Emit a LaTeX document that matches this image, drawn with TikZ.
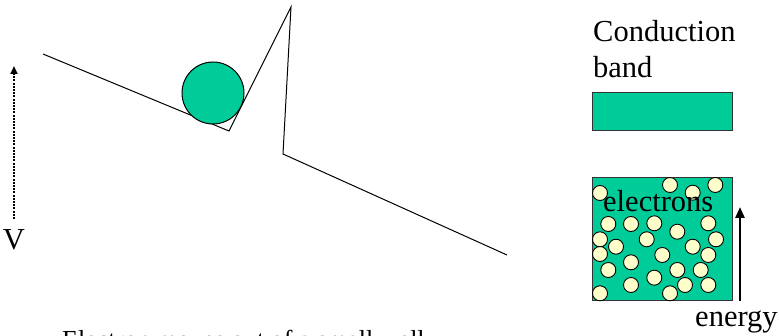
\documentclass[tikz,border=0pt]{standalone}
\usepackage{fontspec}
\setmainfont{Liberation Serif}
\usepackage{tikz}
\definecolor{bandgreen}{RGB}{0,204,153}
\definecolor{electroncol}{RGB}{255,255,204}
\usetikzlibrary{arrows.meta, positioning}

\begin{document}
\begin{tikzpicture}[x=1pt, y=-1pt,
    txt/.style={inner sep=0pt, font=\fontsize{30.5}{36}\selectfont},
    bandbox/.style={draw=black!80, line width=1pt, fill=bandgreen, inner sep=0pt,
                    outer sep=0pt, anchor=north west, minimum width=140pt},
    edot/.style={circle, draw=black, line width=0.9pt, fill=electroncol,
                 minimum size=15pt, inner sep=0pt}
]
    \useasboundingbox (0,0) rectangle (779,336);

    % potential curve with the trapped electron
    \coordinate (p1) at (43,54);
    \coordinate (p2) at (229,131);
    \coordinate (p3) at (291,7);
    \coordinate (p4) at (283,154);
    \coordinate (p5) at (507,255);
    \draw[line width=1pt] (p1) -- (p2) -- (p3) -- (p4) -- (p5);
    \node[circle, draw, line width=1pt, fill=bandgreen, minimum size=62pt, inner sep=0pt] (ball) at (213,93) {};

    % potential axis
    \coordinate (vbot) at (14,219);
    \coordinate (vtop) at (14,66);
    \draw[line width=2pt, dash pattern=on 2pt off 1.2pt, -{Triangle[width=7pt,length=8pt]}] (vbot) -- (vtop);
    \node[txt, anchor=base] (vlab) at (14,250) {V};

    \node[txt, anchor=base west, font=\fontsize{26}{31}\selectfont] (caption) at (62,348.5) {Electron moves out of a small well};

    % bands
    \node[txt, anchor=base west] (cond) at (593,42) {Conduction};
    \node[txt, anchor=base west] (condb) at (593,78) {band};
    \node[bandbox, minimum height=38pt] (cband) at (592,93) {};
    \node[bandbox, minimum height=123pt] (vband) at (592,178) {};

    \foreach \x/\y [count=\i] in {600/193, 670/185, 692.7/192.7, 715.3/185,
        608.3/224, 631/224, 654.3/223.3, 708.3/223.3, 677.3/231.7,
        600/239.3, 646.7/239.3, 716/239.3, 616/246.7, 692.7/246.7,
        600/254, 662.3/255, 708.3/255, 631/262.3,
        608.3/270, 677.3/270, 700.7/270, 654.3/277.7,
        631/285, 685/285, 708.3/285, 600/293.3, 670/293.3}
        \node[edot] (e\i) at (\x,\y) {};

    \node[txt, anchor=base west] (elec) at (603,211.5) {electrons};

    % energy axis
    \coordinate (ebot) at (740,301);
    \coordinate (etop) at (740,207);
    \draw[line width=2.5pt, -{Triangle[width=9pt,length=11pt]}] (ebot) -- (etop);
    \node[txt, anchor=base west] (energy) at (695,327) {energy};
\end{tikzpicture}
\end{document}
